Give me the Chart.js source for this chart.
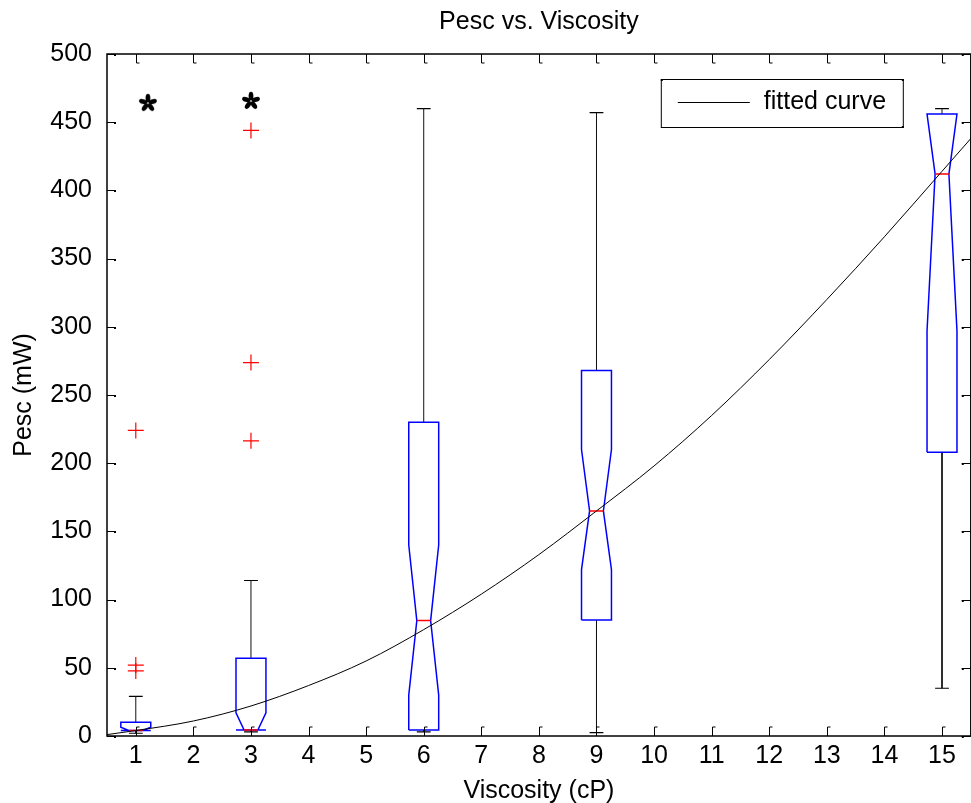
<!DOCTYPE html>
<html>
<head>
<meta charset="utf-8">
<title>Pesc vs. Viscosity</title>
<script src="https://cdn.jsdelivr.net/npm/chart.js@4.4.0/dist/chart.umd.min.js"></script>
<style>
  html, body { margin: 0; padding: 0; background: #fff; overflow: hidden; }
  #wrap { width: 980px; height: 806px; }
</style>
</head>
<body>
<div id="wrap"><canvas id="boxChart" width="980" height="806"></canvas></div>
<script>
// box positions on the viscosity axis (cP)
const viscosity = [1, 3, 6, 9, 15];
// box statistics, Pesc (mW)
const lowerWhisker = [2, 3, 3, 2.5, 35];
const q1 = [4, 4.4, 4.4, 85, 208];
const notchLow = [4, 4.4, 30, 122, 297];
const median = [4, 4.4, 84.6, 165, 412];
const notchHigh = [6.5, 17, 140, 210, 456];
const q3 = [10, 57, 230, 268, 456];
const upperWhisker = [29, 114, 460, 457, 460];

// outliers (red +)
const outlierX = [1, 1, 1, 3, 3, 3];
const outlierY = [224, 52, 47.7, 444, 273.8, 216.4];

// asterisk markers
const starX = [1.21, 3];
const starY = [464, 465.5];

// fitted curve
const curveX = [0.5, 1, 2, 3, 4, 5, 6, 7, 8, 9, 10, 11, 12, 13, 14, 15, 15.5];
const curveY = [1, 4, 11, 22, 37, 55, 78, 104, 133, 165, 198, 235, 276, 320, 366, 414, 438];

// axis ticks
const xTicks = [1, 2, 3, 4, 5, 6, 7, 8, 9, 10, 11, 12, 13, 14, 15];
const yTicks = [0, 50, 100, 150, 200, 250, 300, 350, 400, 450, 500];

const BOX_HALF = 0.26;
const NOTCH_HALF = 0.12;
const CAP_HALF = 0.12;
const TICK = 9;

// build outlines, split by null points
const boxPts = [], medPts = [], whiskPts = [], capPts = [];
viscosity.forEach((x, i) => {
  const lo = Math.max(notchLow[i], q1[i]);
  const hi = Math.min(notchHigh[i], q3[i]);
  boxPts.push(
    {x: x - BOX_HALF, y: q1[i]}, {x: x + BOX_HALF, y: q1[i]},
    {x: x + BOX_HALF, y: lo}, {x: x + NOTCH_HALF, y: median[i]},
    {x: x + BOX_HALF, y: hi}, {x: x + BOX_HALF, y: q3[i]},
    {x: x - BOX_HALF, y: q3[i]}, {x: x - BOX_HALF, y: hi},
    {x: x - NOTCH_HALF, y: median[i]}, {x: x - BOX_HALF, y: lo},
    {x: x - BOX_HALF, y: q1[i]}, {x: x, y: null}
  );
  medPts.push({x: x - NOTCH_HALF, y: median[i]}, {x: x + NOTCH_HALF, y: median[i]}, {x: x, y: null});
  whiskPts.push({x: x, y: q3[i]}, {x: x, y: upperWhisker[i]}, {x: x, y: null});
  whiskPts.push({x: x, y: q1[i]}, {x: x, y: lowerWhisker[i]}, {x: x, y: null});
  capPts.push({x: x - CAP_HALF, y: upperWhisker[i]}, {x: x + CAP_HALF, y: upperWhisker[i]}, {x: x, y: null});
  capPts.push({x: x - CAP_HALF, y: lowerWhisker[i]}, {x: x + CAP_HALF, y: lowerWhisker[i]}, {x: x, y: null});
});

function makeAsterisk() {
  const c = document.createElement('canvas');
  c.width = 24; c.height = 24;
  const g = c.getContext('2d');
  g.fillStyle = '#000';
  g.translate(12, 12);
  for (let k = 0; k < 5; k++) {
    g.save();
    g.rotate(-Math.PI / 2 + k * 2 * Math.PI / 5);
    g.beginPath();
    g.ellipse(5.0, 0, 4.3, 2.4, 0, 0, Math.PI * 2);
    g.fill();
    g.restore();
  }
  return c;
}

// MATLAB style frame: inward ticks on all sides + legend box
const matlabFrame = {
  id: 'matlabFrame',
  afterDraw(chart) {
    const {ctx, chartArea: a, scales} = chart;
    ctx.save();
    ctx.strokeStyle = '#000';
    ctx.fillStyle = '#000';
    ctx.lineWidth = 1.5;
    ctx.strokeRect(a.left, a.top, a.right - a.left, a.bottom - a.top);
    ctx.lineWidth = 1;
    scales.x.ticks.forEach(t => {
      const px = Math.round(scales.x.getPixelForValue(t.value)) + 0.5;
      ctx.beginPath();
      ctx.moveTo(px, a.bottom); ctx.lineTo(px, a.bottom - TICK); ctx.lineTo(px + 3, a.bottom - TICK);
      ctx.moveTo(px, a.top); ctx.lineTo(px, a.top + TICK); ctx.lineTo(px + 3, a.top + TICK);
      ctx.stroke();
    });
    scales.y.ticks.forEach(t => {
      const py = Math.round(scales.y.getPixelForValue(t.value)) + 0.5;
      ctx.beginPath();
      ctx.moveTo(a.left, py); ctx.lineTo(a.left + TICK, py);
      ctx.moveTo(a.right, py); ctx.lineTo(a.right - TICK, py);
      ctx.stroke();
      ctx.fillRect(a.left + TICK - 2, py - 0.5, 2, 2);
      ctx.fillRect(a.right - TICK, py - 0.5, 2, 2);
    });

    // legend
    const ds = chart.data.datasets[0];
    const lx = a.right - 310, ly = a.top + 25, lw = 242, lh = 48;
    ctx.fillStyle = '#fff';
    ctx.fillRect(lx, ly, lw, lh);
    ctx.strokeStyle = '#000';
    ctx.lineWidth = 1;
    ctx.strokeRect(lx + 0.5, ly + 0.5, lw, lh);
    ctx.fillStyle = '#000';
    [[lx, ly], [lx + lw - 1, ly], [lx + lw - 1, ly + lh - 1]].forEach(p => ctx.fillRect(p[0], p[1], 2, 2));
    ctx.beginPath();
    ctx.moveTo(lx + 17, ly + 23.5); ctx.lineTo(lx + 89, ly + 23.5);
    ctx.stroke();
    ctx.font = "25px 'Liberation Sans', Arial, sans-serif";
    ctx.textBaseline = 'middle';
    ctx.textAlign = 'left';
    ctx.fillText(ds.label, lx + 103, ly + 23);
    ctx.restore();
  }
};

Chart.defaults.font.family = "'Liberation Sans', Arial, sans-serif";
Chart.defaults.font.size = 25;
Chart.defaults.color = '#000';

const ctx = document.getElementById('boxChart').getContext('2d');
new Chart(ctx, {
  type: 'scatter',
  data: {
    datasets: [
      {
        label: 'fitted curve',
        data: curveX.map((x, i) => ({x: x, y: curveY[i]})),
        showLine: true,
        borderColor: '#000',
        borderWidth: 1,
        pointRadius: 0,
        cubicInterpolationMode: 'monotone'
      },
      {
        label: 'median',
        data: medPts,
        showLine: true,
        borderColor: '#ff0000',
        borderWidth: 1.5,
        pointRadius: 0,
        spanGaps: false
      },
      {
        label: 'box',
        data: boxPts,
        showLine: true,
        borderColor: '#0000ff',
        borderWidth: 1.5,
        pointRadius: 0,
        spanGaps: false
      },
      {
        label: 'whisker',
        data: whiskPts,
        showLine: true,
        borderColor: '#111',
        borderWidth: 1,
        pointRadius: 0,
        spanGaps: false
      },
      {
        label: 'cap',
        data: capPts,
        showLine: true,
        borderColor: '#000',
        borderWidth: 1.2,
        pointRadius: 0,
        spanGaps: false
      },
      {
        label: 'outliers',
        data: outlierX.map((x, i) => ({x: x, y: outlierY[i]})),
        pointStyle: 'cross',
        pointRadius: 8,
        borderColor: '#ff0000',
        borderWidth: 1.2,
        showLine: false
      },
      {
        label: 'significance',
        data: starX.map((x, i) => ({x: x, y: starY[i]})),
        pointStyle: makeAsterisk(),
        showLine: false
      }
    ]
  },
  options: {
    responsive: false,
    animation: false,
    events: [],
    layout: { padding: 0 },
    plugins: {
      legend: { display: false },
      tooltip: { enabled: false }
    },
    scales: {
      x: {
        type: 'linear',
        position: 'bottom',
        min: 0.5,
        max: 15.5,
        grid: { display: false },
        border: { display: false },
        ticks: { padding: -3, maxRotation: 0, autoSkip: false },
        afterBuildTicks: s => { s.ticks = xTicks.map(v => ({value: v})); },
        afterFit: s => { s.height = 70; },
        title: { display: true, text: 'Viscosity (cP)', padding: {top: 0, bottom: 0} }
      },
      x2: {
        type: 'linear',
        position: 'top',
        min: 0.5,
        max: 15.5,
        grid: { display: false },
        border: { display: false },
        ticks: { display: false },
        afterFit: s => { s.height = 54; },
        title: { display: true, text: 'Pesc vs. Viscosity', padding: {top: 7, bottom: 0} }
      },
      y: {
        type: 'linear',
        position: 'left',
        min: 0,
        max: 500,
        grid: { display: false },
        border: { display: false },
        ticks: { padding: 7 },
        afterBuildTicks: s => { s.ticks = yTicks.map(v => ({value: v})); },
        afterFit: s => { s.width = 107; },
        title: { display: true, text: 'Pesc (mW)', padding: {top: 9, bottom: 0} }
      },
      y2: {
        type: 'linear',
        position: 'right',
        min: 0,
        max: 500,
        grid: { display: false },
        border: { display: false },
        ticks: { display: false },
        afterFit: s => { s.width = 6; }
      }
    }
  },
  plugins: [matlabFrame]
});
</script>
</body>
</html>
